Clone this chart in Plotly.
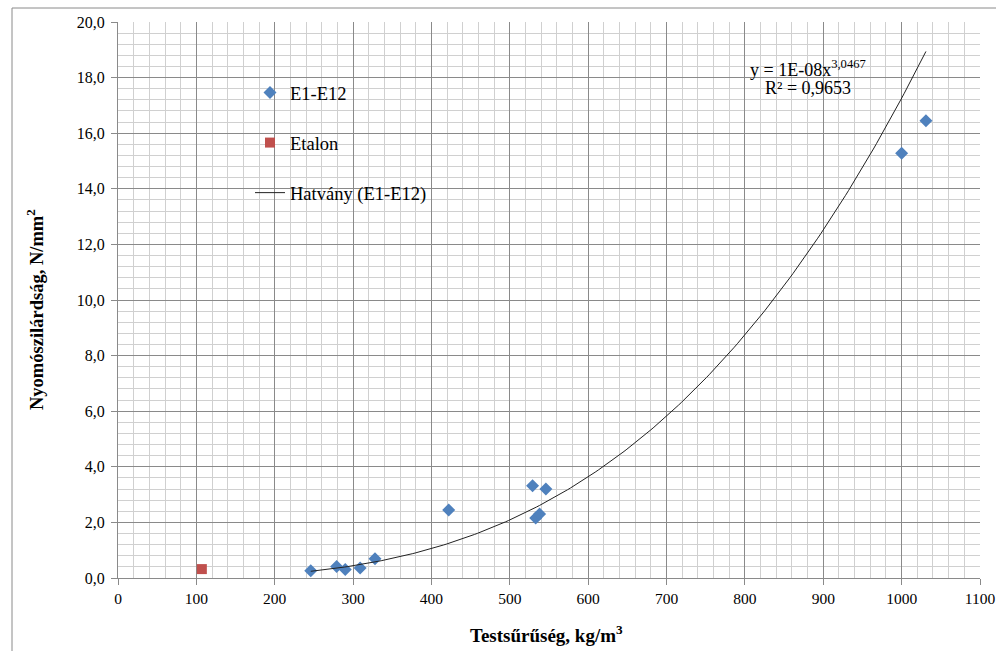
import numpy as np
import plotly.graph_objects as go

# Data
e_density = [246, 279, 290, 309, 328, 422, 529, 533, 538, 546, 1000, 1031]
e_strength = [0.26, 0.41, 0.31, 0.36, 0.69, 2.45, 3.32, 2.16, 2.30, 3.20, 15.28, 16.45]
etalon_density = [107]
etalon_strength = [0.32]

# Power trendline (as reported: y = a*x^b)
trend_a = 1.25e-8
trend_b = 3.0467
trend_x = np.linspace(min(e_density), max(e_density), 200)
trend_y = trend_a * trend_x ** trend_b

W, H = 996, 651
L, R, T, B = 118, 16, 22, 73
pw, ph = W - L - R, H - T - B

serif = "Liberation Serif"

fig = go.Figure()
fig.add_trace(go.Scatter(
    x=e_density, y=e_strength, mode="markers", name="E1-E12",
    marker=dict(symbol="diamond", size=10, color="#4f81bd"),
    legendgroup="a"))
fig.add_trace(go.Scatter(
    x=etalon_density, y=etalon_strength, mode="markers", name="Etalon",
    marker=dict(symbol="square", size=10, color="#c0504d"),
    legendgroup="b"))
fig.add_trace(go.Scatter(
    x=trend_x, y=trend_y, mode="lines", name="Hatvány (E1-E12)",
    line=dict(color="#222222", width=1),
    legendgroup="c"))

grid_major = "#8a8a8a"
grid_minor = "#d0d0d0"

fig.update_layout(
    width=W, height=H,
    margin=dict(l=L, r=R, t=T, b=B, pad=0, autoexpand=False),
    paper_bgcolor="white", plot_bgcolor="white",
    separators=", ",
    font=dict(family=serif, size=15, color="#000000"),
    showlegend=True,
    legend=dict(
        x=(250 - L) / pw, y=(578 - 74) / ph, xanchor="left", yanchor="top",
        bgcolor="rgba(0,0,0,0)", font=dict(family=serif, size=18.5),
        tracegroupgap=23, itemwidth=30,
    ),
    xaxis=dict(
        range=[0, 1100], tick0=0, dtick=100, automargin=False,
        showgrid=True, gridcolor=grid_major, gridwidth=1,
        minor=dict(dtick=20, showgrid=True, gridcolor=grid_minor, gridwidth=1),
        showline=True, linecolor=grid_major, linewidth=1,
        ticks="outside", ticklen=6, tickcolor=grid_major,
        zeroline=False,
        tickfont=dict(family=serif, size=15.5),
    ),
    yaxis=dict(
        range=[0, 20], tick0=0, dtick=2, tickformat=".1f", automargin=False,
        showgrid=True, gridcolor=grid_major, gridwidth=1,
        minor=dict(dtick=0.4, showgrid=True, gridcolor=grid_minor, gridwidth=1),
        showline=True, linecolor=grid_major, linewidth=1,
        ticks="outside", ticklen=6, tickcolor=grid_major,
        ticklabelstandoff=3,
        zeroline=False,
        tickfont=dict(family=serif, size=16),
    ),
)

# Axis titles
fig.add_annotation(
    x=(546 - L) / pw, y=(578 - 634) / ph, xref="paper", yref="paper",
    xanchor="center", yanchor="middle", showarrow=False,
    text="<b>Testsűrűség, kg/m<sup>3</sup></b>", font=dict(family=serif, size=19))
fig.add_annotation(
    x=(35 - L) / pw, y=(578 - 310) / ph, xref="paper", yref="paper",
    xanchor="center", yanchor="middle", showarrow=False, textangle=-90,
    text="<b>Nyomószilárdság, N/mm<sup>2</sup></b>", font=dict(family=serif, size=18.5))

# Trendline equation
fig.add_annotation(
    x=(748 - L) / pw, y=(578 - 68) / ph, xref="paper", yref="paper",
    xanchor="left", yanchor="middle", showarrow=False,
    text="y = 1E-08x<sup>3,0467</sup>", font=dict(family=serif, size=18))
fig.add_annotation(
    x=(763 - L) / pw, y=(578 - 88) / ph, xref="paper", yref="paper",
    xanchor="left", yanchor="middle", showarrow=False,
    text="R² = 0,9653", font=dict(family=serif, size=18))

# Outer chart border
fig.add_shape(type="rect", xref="paper", yref="paper",
              x0=(12 - L) / pw, x1=(1010 - L) / pw,
              y0=(578 - 670) / ph, y1=(578 - 8) / ph,
              line=dict(color="#8a8a8a", width=1), layer="below")

fig.write_html("out.html")
